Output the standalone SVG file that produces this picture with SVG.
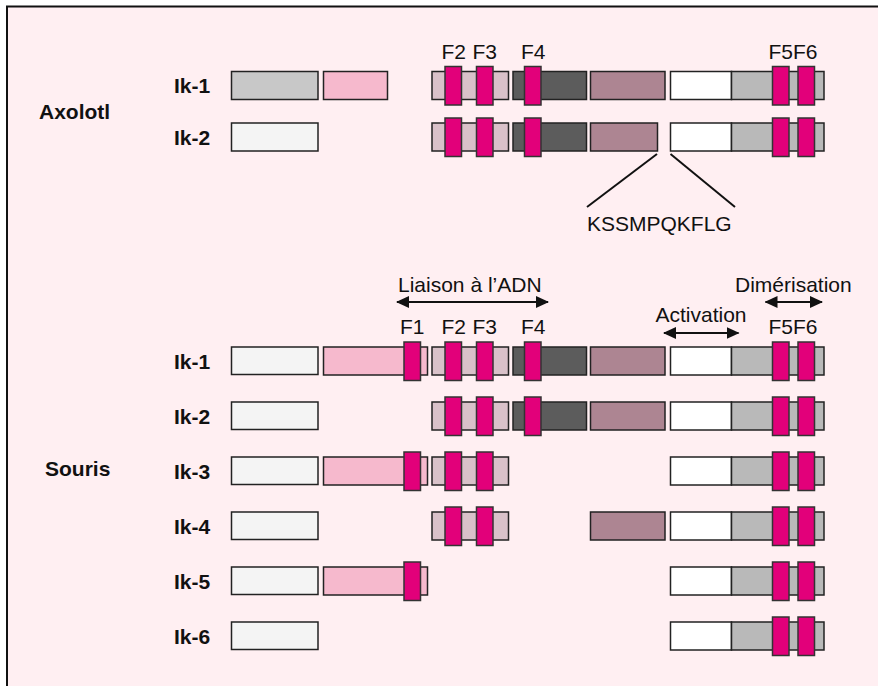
<svg xmlns="http://www.w3.org/2000/svg" width="878" height="686" viewBox="0 0 878 686">
<defs>
<style>
.b{stroke:#222;stroke-width:1.5}
.lt{fill:#f4f4f4}
.g1{fill:#c8c8c8}
.pk{fill:#f6b9cd}
.lm{fill:#d9c1c9}
.dk{fill:#5c5c5c}
.mv{fill:#ad8592}
.wh{fill:#ffffff}
.gr{fill:#b9b9b9}
.mg{fill:#e2007a;stroke:#333;stroke-width:1.5}
.lbl{font-family:"Liberation Sans",Arial,sans-serif;font-size:21px;font-weight:bold;fill:#111}
.txt{font-family:"Liberation Sans",Arial,sans-serif;font-size:21px;fill:#111}
.ln{stroke:#111;stroke-width:2;fill:none}
</style>
<marker id="ah" viewBox="0 0 13 12" refX="12" refY="6" markerWidth="13" markerHeight="12" markerUnits="userSpaceOnUse" orient="auto-start-reverse">
<path d="M0,0 L13,6 L0,12 z" fill="#111"/>
</marker>
<g id="zf23"><rect class="b lm" x="432" y="0" width="76.5" height="28"/><rect class="mg" x="445" y="-5" width="16.5" height="38.5"/><rect class="mg" x="476.5" y="-5" width="16.5" height="38.5"/></g>
<g id="zf4"><rect class="b dk" x="513" y="0" width="73.5" height="28"/><rect class="mg" x="524.5" y="-5" width="16.5" height="38.5"/></g>
<g id="zmv"><rect class="b mv" x="590.5" y="0" width="74.5" height="28"/></g>
<g id="zend"><rect class="b wh" x="670.5" y="0" width="61" height="28"/><rect class="b gr" x="731.5" y="0" width="92.5" height="28"/><rect class="mg" x="772.5" y="-5" width="16.5" height="38.5"/><rect class="mg" x="798" y="-5" width="16.5" height="38.5"/></g>
<g id="zf1"><rect class="b pk" x="323.5" y="0" width="104" height="28"/><rect class="mg" x="404" y="-5" width="16.5" height="38.5"/></g>
</defs>
<rect x="0" y="0" width="878" height="686" fill="#ffffff"/>
<rect x="7" y="6.5" width="871" height="679.5" fill="#ffeff2"/>
<path d="M7,686 L7,6.5 L878,6.5" stroke="#111" stroke-width="2" fill="none"/>

<g id="labels">
<text class="lbl" x="39" y="119">Axolotl</text>
<text class="lbl" x="45" y="476">Souris</text>
</g>

<g id="axolotl-ik1">
<text class="lbl" x="174" y="93">Ik-1</text>
<rect class="b g1" x="231.5" y="71.5" width="86.5" height="28"/>
<rect class="b pk" x="323.5" y="71.5" width="64" height="28"/>
<use href="#zf23" y="71.5"/>
<use href="#zf4" y="71.5"/>
<use href="#zmv" y="71.5"/>
<use href="#zend" y="71.5"/>
<text class="txt" x="441.5" y="59">F2</text>
<text class="txt" x="472.5" y="59">F3</text>
<text class="txt" x="521" y="59">F4</text>
<text class="txt" x="768.5" y="59">F5F6</text>
</g>

<g id="axolotl-ik2">
<text class="lbl" x="174" y="145">Ik-2</text>
<rect class="b lt" x="231.5" y="123" width="86.5" height="28"/>
<use href="#zf23" y="123"/>
<use href="#zf4" y="123"/>
<rect class="b mv" x="590.5" y="123" width="67" height="28"/>
<use href="#zend" y="123"/>
</g>

<g id="insert">
<text class="txt" x="587" y="231">KSSMPQKFLG</text>
</g>

<g id="souris-ik1">
<text class="lbl" x="174" y="369">Ik-1</text>
<rect class="b lt" x="231.5" y="347" width="86.5" height="27.5"/>
<use href="#zf1" y="347"/>
<use href="#zf23" y="347"/>
<use href="#zf4" y="347"/>
<use href="#zmv" y="347"/>
<use href="#zend" y="347"/>
<text class="txt" x="400" y="334">F1</text>
<text class="txt" x="441.5" y="334">F2</text>
<text class="txt" x="472.5" y="334">F3</text>
<text class="txt" x="521" y="334">F4</text>
<text class="txt" x="768.5" y="334">F5F6</text>
</g>
<g id="souris-ik2">
<text class="lbl" x="174" y="424">Ik-2</text>
<rect class="b lt" x="231.5" y="402" width="86.5" height="27.5"/>
<use href="#zf23" y="402"/>
<use href="#zf4" y="402"/>
<use href="#zmv" y="402"/>
<use href="#zend" y="402"/>
</g>
<g id="souris-ik3">
<text class="lbl" x="174" y="479">Ik-3</text>
<rect class="b lt" x="231.5" y="457" width="86.5" height="27.5"/>
<use href="#zf1" y="457"/>
<use href="#zf23" y="457"/>
<use href="#zend" y="457"/>
</g>
<g id="souris-ik4">
<text class="lbl" x="174" y="534">Ik-4</text>
<rect class="b lt" x="231.5" y="512" width="86.5" height="27.5"/>
<use href="#zf23" y="512"/>
<use href="#zmv" y="512"/>
<use href="#zend" y="512"/>
</g>
<g id="souris-ik5">
<text class="lbl" x="174" y="589">Ik-5</text>
<rect class="b lt" x="231.5" y="567" width="86.5" height="27.5"/>
<use href="#zf1" y="567"/>
<use href="#zend" y="567"/>
</g>
<g id="souris-ik6">
<text class="lbl" x="174" y="644">Ik-6</text>
<rect class="b lt" x="231.5" y="622" width="86.5" height="27.5"/>
<use href="#zend" y="622"/>
</g>

<g id="annotations">
<text class="txt" x="398" y="291.5">Liaison à l’ADN</text>
<text class="txt" x="655.5" y="321.5">Activation</text>
<text class="txt" x="735" y="291.5">Dimérisation</text>
</g>

<g id="connectors">
<line class="ln" x1="657" y1="154" x2="587" y2="207"/>
<line class="ln" x1="670.5" y1="154" x2="735" y2="207"/>
<line class="ln" x1="397" y1="302" x2="548" y2="302" marker-start="url(#ah)" marker-end="url(#ah)"/>
<line class="ln" x1="664" y1="333" x2="738.5" y2="333" marker-start="url(#ah)" marker-end="url(#ah)"/>
<line class="ln" x1="765.5" y1="302" x2="822" y2="302" marker-start="url(#ah)" marker-end="url(#ah)"/>
</g>
</svg>
